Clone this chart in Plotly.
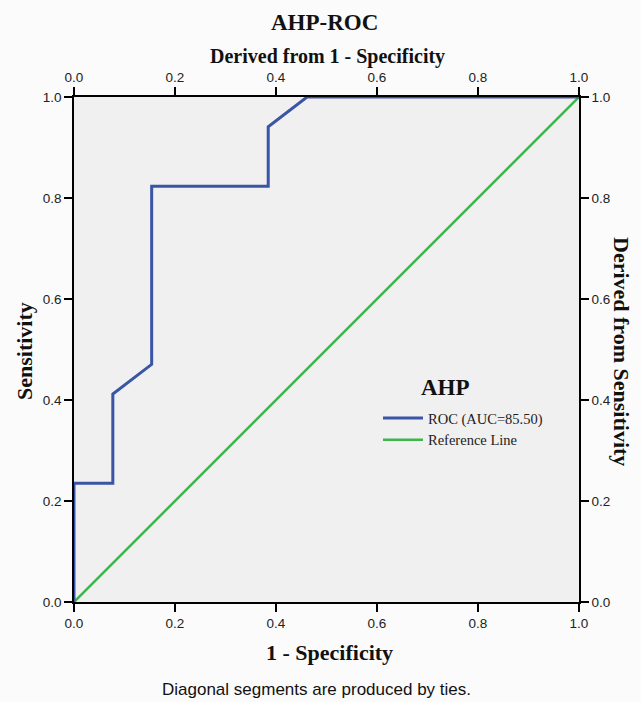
import plotly.graph_objects as go

roc_fpr = [0.0, 0.0, 0.0769, 0.0769, 0.1538, 0.1538, 0.3846, 0.3846, 0.4615, 1.0]
roc_tpr = [0.0, 0.2353, 0.2353, 0.4118, 0.4706, 0.8235, 0.8235, 0.9412, 1.0, 1.0]
ref_x = [0.0, 1.0]
ref_y = [0.0, 1.0]
tick_vals = [0.0, 0.2, 0.4, 0.6, 0.8, 1.0]
tick_text = ["0.0", "0.2", "0.4", "0.6", "0.8", "1.0"]

serif = "Liberation Serif, Times New Roman, serif"
sans = "Liberation Sans, Arial, sans-serif"

fig = go.Figure()
fig.add_trace(go.Scatter(x=ref_x, y=ref_y, mode="lines", name="Reference Line",
                         legendgroup="b", line=dict(color="#3cb54a", width=2.5)))
fig.add_trace(go.Scatter(x=roc_fpr, y=roc_tpr, mode="lines", name="ROC (AUC=85.50)",
                         legendgroup="a", line=dict(color="#3a54a6", width=3)))
fig.add_trace(go.Scatter(x=[0, 1], y=[0, 1], xaxis="x2", yaxis="y2", mode="lines",
                         line=dict(width=0), showlegend=False, hoverinfo="skip"))

ax_common = dict(range=[0, 1], tickvals=tick_vals, ticktext=tick_text, ticks="outside",
                 ticklen=8, tickwidth=1.5, tickcolor="black", showgrid=False, zeroline=False,
                 showline=True, linecolor="black", linewidth=1.5, automargin=False,
                 tickfont=dict(family=sans, size=13.5, color="#222"))

W, H = 641, 702
L, R, T, B = 74, 579, 97, 602


def px(xp):
    return (xp - L) / (R - L)


def py(yp):
    return (B - yp) / (B - T)


fig.update_layout(
    width=W, height=H,
    margin=dict(l=L, r=W - R, t=T, b=H - B),
    paper_bgcolor="#fbfbfb", plot_bgcolor="#f0f0f0",
    xaxis=dict(**ax_common, side="bottom"),
    yaxis=dict(**ax_common, side="left"),
    xaxis2=dict(**ax_common, side="top", overlaying="x", anchor="y"),
    yaxis2=dict(**ax_common, side="right", overlaying="y", anchor="x"),
    showlegend=True,
    legend=dict(x=px(378), y=py(402), xanchor="left", yanchor="top", bgcolor="rgba(0,0,0,0)",
                font=dict(family=serif, size=14.5, color="#222"), traceorder="reversed",
                itemwidth=40, tracegroupgap=3),
)

anns = [
    dict(text="<b>AHP-ROC</b>", x=px(324), y=py(22), font=dict(family=serif, size=23, color="#111")),
    dict(text="<b>Derived from 1 - Specificity</b>", x=px(327), y=py(57),
         font=dict(family=serif, size=20, color="#111")),
    dict(text="<b>1 - Specificity</b>", x=px(329), y=py(652)),
    dict(text="Diagonal segments are produced by ties.", x=px(316), y=py(689),
         font=dict(family=sans, size=17, color="#111")),
    dict(text="<b>Sensitivity</b>", x=px(24), y=py(351), textangle=-90),
    dict(text="<b>Derived from Sensitivity</b>", x=px(622), y=py(351), textangle=90),
    dict(text="<b>AHP</b>", x=px(445), y=py(387), font=dict(family=serif, size=23, color="#111")),
]
for a in anns:
    a.setdefault("font", dict(family=serif, size=22, color="#111"))
    a.update(xref="paper", yref="paper", showarrow=False, xanchor="center", yanchor="middle")
fig.update_layout(annotations=anns)

fig.write_html("out.html", post_script="document.body.style.margin='0';",
               config={"displayModeBar": False})
